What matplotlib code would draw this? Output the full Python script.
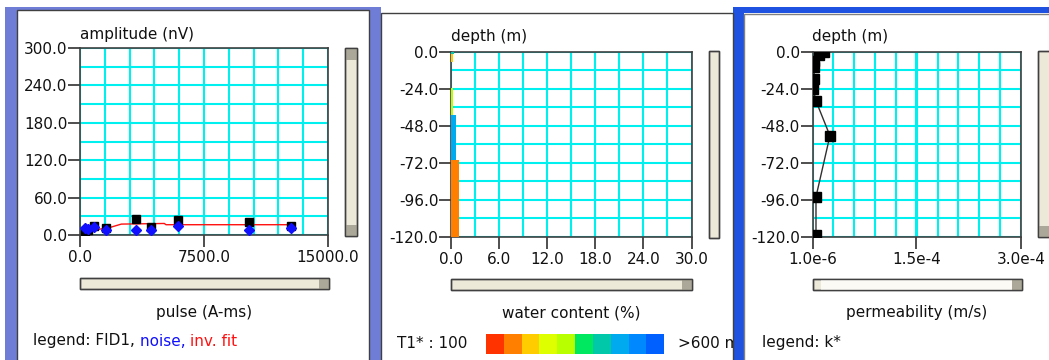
import matplotlib
matplotlib.use("Agg")
import matplotlib.pyplot as plt
from matplotlib.patches import Rectangle
import numpy as np

W, H = 1049, 360

# ---------------- data ----------------
pulse = [300, 500, 850, 1600, 3400, 4300, 5950, 10200, 12750]
fid1 = [6, 8, 14, 12, 25, 13, 24, 21, 14]
noise = [12, 10, 13, 8, 8, 8, 14, 8, 11]
fit_pulse = [300, 600, 1100, 1800, 2500, 5100, 5200, 12750]
fit_amp = [4, 9, 9, 12, 17.5, 18.5, 16.5, 16.5]

layer_top = [0, -1.7, -23.6, -40.8, -70.2]
layer_bottom = [-1.7, -6.9, -40.8, -70.2, -120]
water = [0.33, 0.25, 0.25, 0.58, 0.96]
layer_t1_class = [6, 2, 4, 7, 1]

t1_colors = ["#ff3300", "#ff8000", "#ffcc00", "#ddff00", "#b8ff00",
             "#00e860", "#00c8a8", "#00aaee", "#0088ff", "#0060ff"]

depth_k = [0, -2.2, -6.4, -10, -17.7, -24, -32, -54.5, -94, -119]
perm_k = [1.8e-5, 1.1e-5, 3.7e-6, 3e-6, 3.7e-6, 2e-6, 6e-6, 2.6e-5, 6e-6, 6e-6]

amp_ticks = [0, 60, 120, 180, 240, 300]
pulse_ticks = [0, 7500, 15000]
depth_ticks = [0, -24, -48, -72, -96, -120]
wc_ticks = [0, 6, 12, 18, 24, 30]
perm_ticks = [1.0e-6, 1.5e-4, 3.0e-4]
perm_tick_labels = ["1.0e-6", "1.5e-4", "3.0e-4"]

# ---------------- figure ----------------
plt.rcParams['font.family'] = ['DejaVu Sans']
FS = 11
TXT = "#111111"
fig = plt.figure(figsize=(W / 100, H / 100), dpi=100)
fig.patch.set_facecolor("white")

bg = fig.add_axes([0, 0, 1, 1], zorder=-10)
bg.set_xlim(0, W)
bg.set_ylim(H, 0)
bg.axis("off")


def rect(x0, y0, x1, y1, fc, ec="none", lw=0, z=0):
    bg.add_patch(Rectangle((x0, y0), x1 - x0, y1 - y0, facecolor=fc,
                           edgecolor=ec, linewidth=lw, zorder=z))


# window frames
rect(5, 7, 370, 360, "#6f7dd6")
rect(370, 7, 381, 360, "#6f7dd6")
rect(733, 7, 744, 360, "#1f52e0")
rect(744, 7, W, 13, "#1f52e0")
rect(17, 10, 369, 362, "white", ec="#404040", lw=1.0, z=1)
rect(381, 13, 733, 362, "white", ec="#404040", lw=1.0, z=1)
rect(744, 14, W + 2, 362, "white", ec="#808080", lw=1.0, z=1)


def axpx(x0, y0, x1, y1):
    return fig.add_axes([x0 / W, 1 - y1 / H, (x1 - x0) / W, (y1 - y0) / H])


def style(ax, xlim, ylim, xmaj, ymaj, xminor, yminor):
    ax.set_xlim(*xlim)
    ax.set_ylim(*ylim)
    ax.set_xticks(xmaj)
    ax.set_yticks(ymaj)
    ax.set_xticks(xminor, minor=True)
    ax.set_yticks(yminor, minor=True)
    ax.grid(True, which="both", color="#00f0f0", linewidth=1.5, zorder=0)
    ax.set_axisbelow(True)
    ax.tick_params(which="major", length=8.6, width=1.2, color="#303030",
                   direction="out", labelsize=FS, labelcolor=TXT)
    ax.tick_params(axis="y", which="major", pad=0.5)
    ax.tick_params(axis="x", which="major", pad=2.5)
    ax.tick_params(which="minor", length=0)
    for s in ax.spines.values():
        s.set_color("#404040")
        s.set_linewidth(1.2)


def vscroll(x0, y0, x1, y1, dark_top=False, dark_bottom=False):
    rect(x0, y0, x1, y1, "#ece9d8", ec="#404040", lw=1.0, z=2)
    if dark_top:
        rect(x0, y0, x1, y0 + 12, "#aca899", z=3)
    if dark_bottom:
        rect(x0, y1 - 11, x1, y1, "#aca899", z=3)
    rect(x0, y0, x1, y1, "none", ec="#404040", lw=1.0, z=4)


def hscroll(x0, y0, x1, y1, light_mid=False):
    rect(x0, y0, x1, y1, "#ece9d8", ec="#404040", lw=1.0, z=2)
    if light_mid:
        rect(x0 + 8, y0, x1 - 10, y1, "#fbfaf5", z=3)
    rect(x1 - 10, y0, x1, y1, "#aca899", z=3)
    rect(x0, y0, x1, y1, "none", ec="#404040", lw=1.0, z=4)


# ---------------- panel 1 ----------------
ax1 = axpx(80, 48, 328, 235)
style(ax1, (0, 15000), (0, 300), pulse_ticks, amp_ticks,
      np.arange(0, 15001, 1500), np.arange(0, 301, 30))
ax1.set_xticklabels(["0.0", "7500.0", "15000.0"])
ax1.set_yticklabels([f"{v:.1f}" for v in amp_ticks])
ax1.plot(fit_pulse, fit_amp, color="#ff1010", linewidth=1.0, zorder=3)
ax1.plot(pulse, fid1, linestyle="none", marker="s", markersize=5.5,
         color="black", zorder=4)
ax1.plot(pulse, noise, linestyle="none", marker="D", markersize=5.0,
         color="#1010ff", zorder=5)

bg.text(80, 34, "amplitude (nV)", fontsize=FS, color=TXT, ha="left", va="center")
bg.text(204, 312, "pulse (A-ms)", fontsize=FS, color=TXT, ha="center", va="center")

fig.canvas.draw()
r = fig.canvas.get_renderer()
inv = bg.transData.inverted()
xcur = 33
for s, c in [("legend: FID1, ", TXT), ("noise, ", "#1010ff"), ("inv. fit", "#ff1010")]:
    t = bg.text(xcur, 341, s, fontsize=FS, color=c, ha="left", va="center")
    bb = t.get_window_extent(r)
    xcur = inv.transform((bb.x1, bb.y0))[0]

vscroll(345, 48, 357, 236, dark_top=True, dark_bottom=True)
hscroll(80, 278, 329, 289)

# ---------------- panel 2 ----------------
ax2 = axpx(451, 51.5, 691.5, 237)
style(ax2, (0, 30), (-120, 0), wc_ticks, depth_ticks,
      np.arange(0, 31, 3), np.arange(-120, 1, 12))
ax2.set_xticklabels([f"{v:.1f}" for v in wc_ticks])
ax2.set_yticklabels([f"{v:.1f}" for v in depth_ticks])
for top, bot, w, c in zip(layer_top, layer_bottom, water, layer_t1_class):
    ax2.barh((top + bot) / 2, w, height=top - bot, left=0,
             color=t1_colors[c], edgecolor="none", zorder=3)

bg.text(451, 36.5, "depth (m)", fontsize=FS, color=TXT, ha="left", va="center")
bg.text(571, 313, "water content (%)", fontsize=FS, color=TXT, ha="center", va="center")
bg.text(397, 343, "T1* : 100", fontsize=FS, color=TXT, ha="left", va="center")
cw = (664.3 - 486) / len(t1_colors)
for i, c in enumerate(t1_colors):
    rect(486 + i * cw, 333.5, 486 + (i + 1) * cw, 353.5, c, z=2)
tt = bg.text(678, 343, ">600 ms", fontsize=FS, color=TXT, ha="left", va="center")
clip = Rectangle((381, 13), 352, 347, transform=bg.transData, facecolor="none")
tt.set_clip_path(clip)
tt.set_clip_on(True)
vscroll(709, 51, 719, 238)
hscroll(451, 279, 692, 290)

# ---------------- panel 3 ----------------
ax3 = axpx(812.5, 51.5, 1021, 237)
style(ax3, (1.0e-6, 3.0e-4), (-120, 0), perm_ticks, depth_ticks,
      np.linspace(1.0e-6, 3.0e-4, 11), np.arange(-120, 1, 12))
ax3.set_xticklabels(perm_tick_labels)
ax3.set_yticklabels([f"{v:.1f}" for v in depth_ticks])
ax3.plot(perm_k, depth_k, color="#303030", linewidth=1.0, marker="s",
         markersize=6.5, markerfacecolor="black", markeredgecolor="black", zorder=4)

bg.text(812.5, 36.5, "depth (m)", fontsize=FS, color=TXT, ha="left", va="center")
bg.text(917, 313, "permeability (m/s)", fontsize=FS, color=TXT, ha="center", va="center")
bg.text(762, 343, "legend: k*", fontsize=FS, color=TXT, ha="left", va="center")
vscroll(1038, 51, 1052, 237, dark_bottom=True)
hscroll(812.5, 279, 1022, 290, light_mid=True)

fig.savefig("out.png", dpi=100, facecolor="white")
